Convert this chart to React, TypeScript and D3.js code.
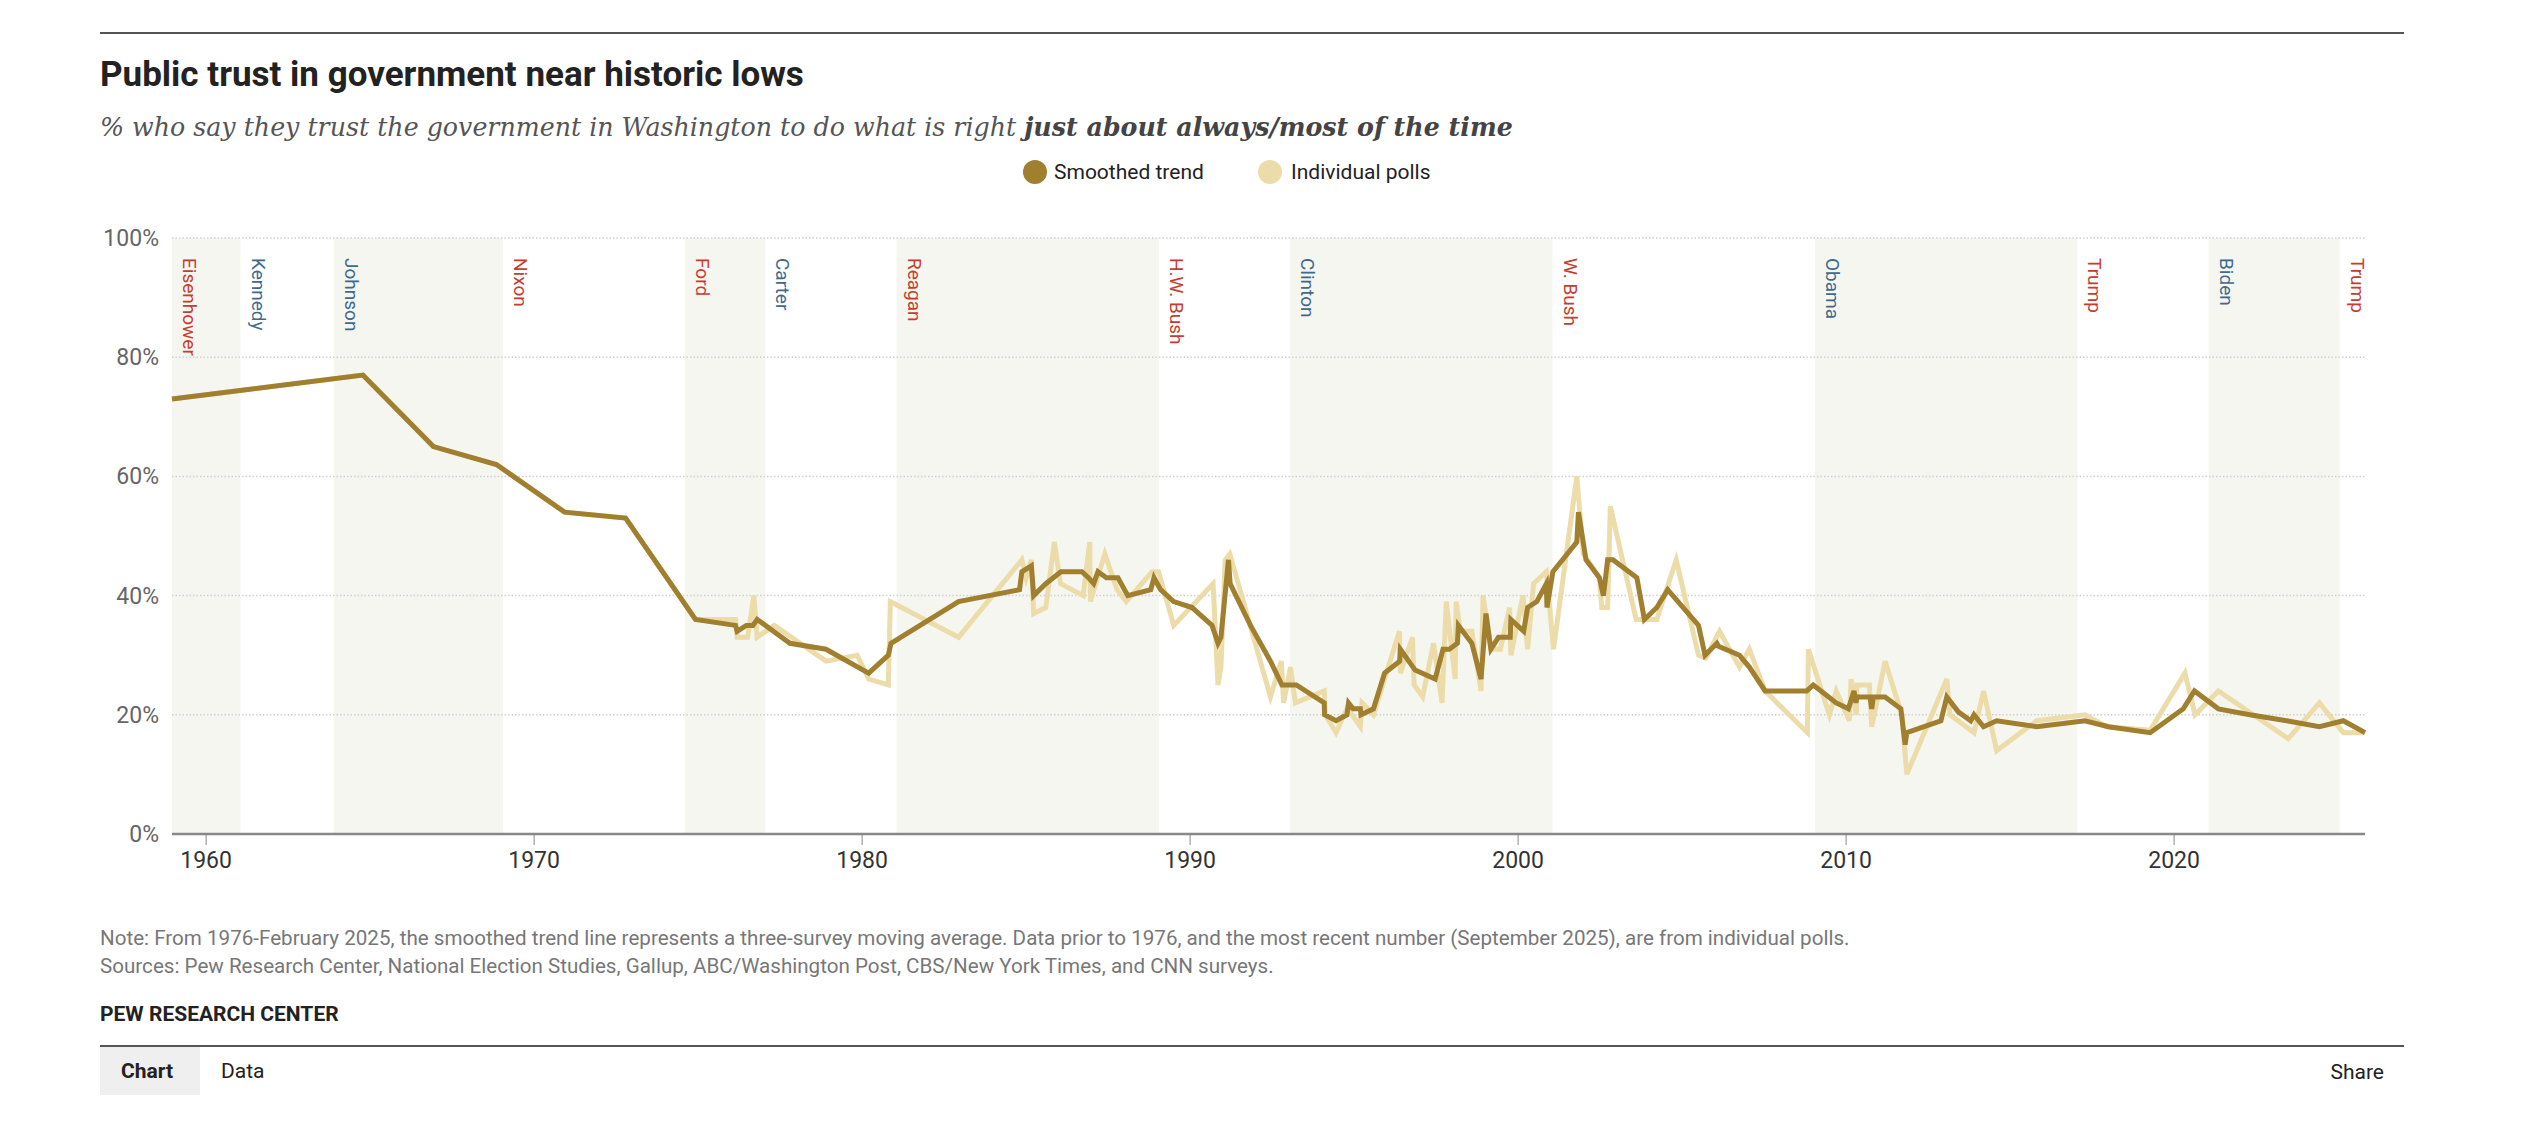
import React from 'react';
import * as d3 from 'd3';

// Smoothed trend: [decimal year, % trust]
const trendYears = [
  1958.96, 1964.78, 1966.93, 1968.85, 1970.93, 1972.79, 1974.92, 1976.14, 1976.19, 1976.47,
  1976.67, 1976.8, 1977.8, 1978.9, 1980.2, 1980.8, 1980.88, 1982.94, 1984.8, 1984.87,
  1985.16, 1985.23, 1985.6, 1986.06, 1986.7, 1986.9, 1987.06, 1987.19, 1987.45, 1987.8,
  1988.1, 1988.8, 1988.9, 1989.1, 1989.5, 1990.06, 1990.67, 1990.85, 1990.94, 1991.17,
  1991.22, 1991.84, 1992.45, 1992.8, 1993.24, 1994.09, 1994.1, 1994.45, 1994.78, 1994.83,
  1994.97, 1995.19, 1995.21, 1995.59, 1995.93, 1996.39, 1996.41, 1996.86, 1997.47, 1997.71,
  1997.9, 1998.15, 1998.18, 1998.59, 1998.87, 1999.02, 1999.17, 1999.4, 1999.76, 1999.78,
  2000.17, 2000.29, 2000.57, 2000.86, 2000.88, 2001.06, 2001.79, 2001.84, 2002.07, 2002.48,
  2002.6, 2002.73, 2002.89, 2003.62, 2003.85, 2004.23, 2004.56, 2005.5, 2005.7, 2006.06,
  2006.11, 2006.75, 2006.82, 2007.05, 2007.53, 2008.8, 2009.0, 2009.7, 2010.07, 2010.24,
  2010.3, 2010.33, 2010.73, 2010.78, 2010.83, 2011.19, 2011.67, 2011.8, 2011.85, 2012.89,
  2013.07, 2013.42, 2013.8, 2013.9, 2014.19, 2014.59, 2015.81, 2017.28, 2018.0, 2019.27,
  2020.28, 2020.62, 2021.35, 2022.31, 2023.43, 2024.43, 2025.16, 2025.82,
];
const trendValues = [
  73, 77, 65, 62, 54, 53, 36, 35, 34, 35,
  35, 36, 32, 31, 27, 30, 32, 39, 41, 44,
  45, 40, 42, 44, 44, 43, 42, 44, 43, 43,
  40, 41, 43, 41, 39, 38, 35, 32, 33, 46,
  42, 35, 29, 25, 25, 22, 20, 19, 20, 22,
  21, 21, 20, 21, 27, 29, 31, 27.5, 26, 31,
  31, 32, 35, 32, 26, 37, 31, 33, 33, 36,
  34, 38, 39, 42, 38, 44, 49, 54, 46, 43,
  40, 46, 46, 43, 36, 38, 41, 35, 30, 32,
  31.5, 30, 29.5, 28, 24, 24, 25, 22, 21, 24,
  22, 23, 23, 21, 23, 23, 21, 15, 17, 19,
  23, 20.5, 19, 20, 18, 19, 18, 19, 18, 17,
  21, 24, 21, 20, 19, 18, 19, 17,
];

// Individual polls: [decimal year, % trust]
const pollYears = [
  1958.96, 1964.78, 1966.93, 1968.85, 1970.93, 1972.79, 1974.92, 1976.14, 1976.19, 1976.51,
  1976.7, 1976.8, 1977.32, 1978.9, 1979.85, 1980.2, 1980.8, 1980.86, 1982.94, 1984.87,
  1985.0, 1985.16, 1985.23, 1985.6, 1985.86, 1986.05, 1986.74, 1986.94, 1986.96, 1987.4,
  1987.77, 1988.05, 1988.84, 1989.04, 1989.5, 1990.7, 1990.85, 1990.94, 1991.07, 1991.21,
  1992.45, 1992.78, 1992.85, 1993.06, 1993.21, 1994.09, 1994.12, 1994.45, 1994.78, 1994.94,
  1995.19, 1995.24, 1995.59, 1996.38, 1996.41, 1996.78, 1996.83, 1997.09, 1997.42, 1997.68,
  1997.81, 1998.08, 1998.11, 1998.24, 1998.59, 1998.87, 1998.93, 1999.17, 1999.46, 1999.74,
  1999.78, 2000.15, 2000.29, 2000.47, 2000.86, 2001.08, 2001.79, 2001.99, 2002.48, 2002.55,
  2002.73, 2002.81, 2003.6, 2004.23, 2004.82, 2005.5, 2005.72, 2006.14, 2006.75, 2007.05,
  2007.53, 2008.82, 2008.85, 2009.49, 2009.7, 2010.1, 2010.15, 2010.31, 2010.33, 2010.71,
  2010.78, 2011.19, 2011.7, 2011.85, 2013.07, 2013.17, 2013.9, 2014.19, 2014.59, 2015.81,
  2017.28, 2017.95, 2019.27, 2020.33, 2020.64, 2021.35, 2023.48, 2024.43, 2025.16, 2025.82,
];
const pollValues = [
  73, 77, 65, 62, 54, 53, 36, 36, 33, 33,
  40, 33, 35, 29, 30, 26, 25, 39, 33, 46,
  43, 46, 37, 38, 49, 42, 40, 49, 39, 47,
  41, 39, 44, 44, 35, 42, 25, 28, 46, 47,
  23, 29, 22, 28, 22, 24, 20, 17, 21, 20,
  18, 22, 20, 34, 27, 33, 25, 23, 32, 22,
  39, 26, 39, 34, 34, 24, 40, 31, 31, 38,
  30, 40, 31, 42, 44, 31, 60, 47, 43, 38,
  38, 55, 36, 36, 46, 30, 29.5, 34, 28, 31,
  24, 17, 31, 20, 24, 19, 26, 20, 25, 25,
  18, 29, 20, 10, 26, 20, 17, 24, 14, 19,
  20, 18, 17.4, 27, 20, 24, 16, 22, 17, 17,
];

// Administrations: name, party, start (decimal year)
const presNames = ['Eisenhower', 'Kennedy', 'Johnson', 'Nixon', 'Ford', 'Carter', 'Reagan', 'H.W. Bush', 'Clinton', 'W. Bush', 'Obama', 'Trump', 'Biden', 'Trump'];
const presParty = ['R', 'D', 'D', 'R', 'R', 'D', 'R', 'R', 'D', 'R', 'D', 'R', 'D', 'R'];
const presStart = [1953.05, 1961.05, 1963.89, 1969.05, 1974.6, 1977.05, 1981.05, 1989.05, 1993.05, 2001.05, 2009.05, 2017.05, 2021.05, 2025.05];

const xTicks = [1960, 1970, 1980, 1990, 2000, 2010, 2020];
const yTicks = [0, 20, 40, 60, 80, 100];

const GOLD = '#a07f2e';
const PALE = '#ecdcaa';
const SANS = 'Roboto, "Liberation Sans", sans-serif';

export default function App() {
  const width = 2544;
  const height = 1130;
  const plot = { left: 172, right: 2365, top: 238, bottom: 834 };

  const trend = trendYears.map((yr, i) => ({ yr, v: trendValues[i] }));
  const polls = pollYears.map((yr, i) => ({ yr, v: pollValues[i] }));

  const x = d3.scaleLinear()
    .domain([trendYears[0], trendYears[trendYears.length - 1]])
    .range([plot.left, plot.right]);
  const y = d3.scaleLinear().domain([0, 100]).range([plot.bottom, plot.top]);

  const line = d3.line<{ yr: number; v: number }>().x((d) => x(d.yr)).y((d) => y(d.v));

  const end = x.domain()[1];
  const bands = presNames.map((name, i) => {
    const s = Math.max(presStart[i], x.domain()[0]);
    const e = i < presNames.length - 1 ? presStart[i + 1] : end;
    return { name, party: presParty[i], x0: x(s), x1: x(Math.min(e, end)), shade: i % 2 === 0 };
  });

  return (
    <svg width={width} height={height} style={{ position: 'absolute', left: 0, top: 0, background: '#fff' }}>
      {/* header */}
      <line x1={100} x2={2404} y1={33} y2={33} stroke="#555" strokeWidth={2} />
      <text x={100} y={86} fontFamily={SANS} fontWeight={700} fontSize={35} fill="#222">
        Public trust in government near historic lows
      </text>
      <text x={100} y={136} fontFamily={'"DejaVu Serif", Georgia, serif'} fontStyle="italic" fontSize={25.3} fill="#555">
        % who say they trust the government in Washington to do what is right{' '}
        <tspan fontWeight={700} fill="#444">just about always/most of the time</tspan>
      </text>

      {/* legend */}
      <g fontFamily={SANS} fontSize={21} fill="#222">
        <circle cx={1035} cy={172} r={12} fill={GOLD} />
        <text x={1054} y={172} dy="0.35em">Smoothed trend</text>
        <circle cx={1270} cy={172} r={12} fill={PALE} />
        <text x={1291} y={172} dy="0.35em">Individual polls</text>
      </g>

      {/* presidential terms */}
      {bands.map((b, i) => (
        <g key={i}>
          {b.shade && (
            <rect x={b.x0} y={plot.top} width={b.x1 - b.x0} height={plot.bottom - plot.top} fill="#f6f6f0" />
          )}
          <text
            transform={`translate(${b.x0 + 11},258) rotate(90)`}
            fontFamily={SANS}
            fontSize={19}
            fill={b.party === 'R' ? '#c63d2f' : '#3e6a8c'}
          >
            {b.name}
          </text>
        </g>
      ))}

      {/* grid + y axis */}
      {yTicks.map((t) => (
        <g key={t}>
          {t > 0 && (
            <line x1={plot.left} x2={plot.right} y1={y(t)} y2={y(t)} stroke="#cfcfcf" strokeWidth={1.5} strokeDasharray="1.5,2" />
          )}
          <text x={159} y={y(t)} dy="0.35em" textAnchor="end" fontFamily={SANS} fontSize={23} fill="#666">
            {t}%
          </text>
        </g>
      ))}

      {/* lines */}
      <path d={line(polls) ?? ''} fill="none" stroke={PALE} strokeWidth={5} />
      <path d={line(trend) ?? ''} fill="none" stroke={GOLD} strokeWidth={5} />

      {/* x axis */}
      <line x1={plot.left} x2={plot.right} y1={plot.bottom} y2={plot.bottom} stroke="#888" strokeWidth={2.5} />
      {xTicks.map((t) => (
        <g key={t} transform={`translate(${x(t)},${plot.bottom})`}>
          <line y1={0} y2={11} stroke="#888" strokeWidth={1} />
          <text y={34} textAnchor="middle" fontFamily={SANS} fontSize={23} fill="#333">
            {t}
          </text>
        </g>
      ))}

      {/* footer */}
      <g fontFamily={SANS} fontSize={20.6} fill="#777">
        <text x={100} y={945}>
          Note: From 1976-February 2025, the smoothed trend line represents a three-survey moving average. Data prior to 1976, and the most recent number (September 2025), are from individual polls.
        </text>
        <text x={100} y={973}>
          Sources: Pew Research Center, National Election Studies, Gallup, ABC/Washington Post, CBS/New York Times, and CNN surveys.
        </text>
      </g>
      <text x={100} y={1021} fontFamily={SANS} fontWeight={700} fontSize={21} fill="#222">
        PEW RESEARCH CENTER
      </text>
      <line x1={100} x2={2404} y1={1046} y2={1046} stroke="#555" strokeWidth={2} />
      <rect x={100} y={1047} width={100} height={48} fill="#efefef" />
      <text x={121} y={1078} fontFamily={SANS} fontWeight={700} fontSize={21} fill="#222">Chart</text>
      <text x={221} y={1078} fontFamily={SANS} fontSize={21} fill="#222">Data</text>
      <text x={2384} y={1079} textAnchor="end" fontFamily={SANS} fontSize={21} fill="#222">Share</text>
    </svg>
  );
}
